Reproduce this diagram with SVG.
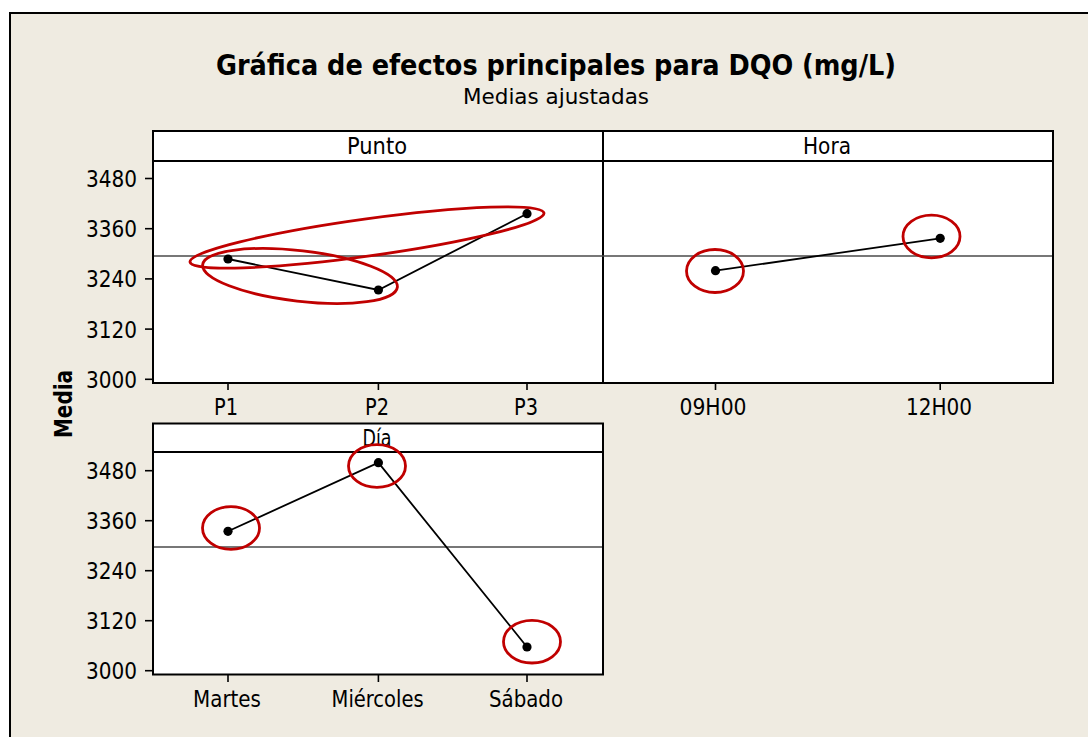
<svg xmlns="http://www.w3.org/2000/svg" width="1088" height="737" viewBox="0 0 1088 737">
<style>
text{font-family:"DejaVu Sans Condensed","DejaVu Sans","Liberation Sans",sans-serif;font-stretch:condensed;fill:#000}
.t{font-size:23px}
.yl{font-size:23px;text-anchor:end}
.c{text-anchor:middle}
.panel{fill:#fff;stroke:#000;stroke-width:2}
.hdr{stroke:#000;stroke-width:2}
.tick{stroke:#000;stroke-width:1.6}
.ref{stroke:#4a4a4a;stroke-width:1.7}
.data{fill:none;stroke:#000;stroke-width:1.8}
.dot{fill:#000}
.mark{fill:none;stroke:#c00000;stroke-width:2.8}
</style>
<rect x="0" y="0" width="1088" height="737" fill="#fff"/>
<g id="frame">
<rect x="10" y="13" width="1100" height="800" fill="#efebe1" stroke="#000" stroke-width="2"/>
</g>
<g id="title">
<text x="556" y="75" class="c" font-size="29" font-weight="bold" textLength="680" lengthAdjust="spacingAndGlyphs">Gráfica de efectos principales para DQO (mg/L)</text>
<text x="556" y="104" class="c" font-size="22" textLength="186" lengthAdjust="spacingAndGlyphs">Medias ajustadas</text>
<text transform="translate(72,404) rotate(-90)" class="c" font-size="24" font-weight="bold" textLength="68" lengthAdjust="spacingAndGlyphs">Media</text>
</g>
<g id="axis-top">
<line class="tick" x1="145" y1="379.3" x2="153" y2="379.3"/>
<line class="tick" x1="145" y1="329.1" x2="153" y2="329.1"/>
<line class="tick" x1="145" y1="278.9" x2="153" y2="278.9"/>
<line class="tick" x1="145" y1="228.7" x2="153" y2="228.7"/>
<line class="tick" x1="145" y1="178.5" x2="153" y2="178.5"/>
<text class="yl" x="137" y="187" textLength="51" lengthAdjust="spacingAndGlyphs">3480</text>
<text class="yl" x="137" y="237" textLength="51" lengthAdjust="spacingAndGlyphs">3360</text>
<text class="yl" x="137" y="287" textLength="51" lengthAdjust="spacingAndGlyphs">3240</text>
<text class="yl" x="137" y="337.5" textLength="51" lengthAdjust="spacingAndGlyphs">3120</text>
<text class="yl" x="137" y="387.5" textLength="51" lengthAdjust="spacingAndGlyphs">3000</text>
</g>
<g id="panel-punto">
<rect class="panel" x="153" y="131" width="450" height="252"/>
<line class="hdr" x1="153" y1="161" x2="603" y2="161"/>
<text class="t c" x="377" y="153.5" textLength="60" lengthAdjust="spacingAndGlyphs">Punto</text>
<line class="tick" x1="228" y1="383" x2="228" y2="390"/>
<line class="tick" x1="378.4" y1="383" x2="378.4" y2="390"/>
<line class="tick" x1="527" y1="383" x2="527" y2="390"/>
<text class="t c" x="226" y="415" textLength="24" lengthAdjust="spacingAndGlyphs">P1</text>
<text class="t c" x="377" y="415" textLength="24" lengthAdjust="spacingAndGlyphs">P2</text>
<text class="t c" x="526" y="415" textLength="24" lengthAdjust="spacingAndGlyphs">P3</text>
</g>
<g id="panel-hora">
<rect class="panel" x="603" y="131" width="450" height="252"/>
<line class="hdr" x1="603" y1="161" x2="1053" y2="161"/>
<text class="t c" x="827" y="153.5" textLength="48" lengthAdjust="spacingAndGlyphs">Hora</text>
<line class="tick" x1="715.5" y1="383" x2="715.5" y2="390"/>
<line class="tick" x1="940.2" y1="383" x2="940.2" y2="390"/>
<text class="t c" x="713" y="415" textLength="67" lengthAdjust="spacingAndGlyphs">09H00</text>
<text class="t c" x="939" y="415" textLength="66" lengthAdjust="spacingAndGlyphs">12H00</text>
</g>
<line class="ref" x1="154" y1="256" x2="1052" y2="256"/>
<g id="panel-dia">
<rect class="panel" x="153" y="423.5" width="450" height="251"/>
<line class="hdr" x1="153" y1="452" x2="603" y2="452"/>
<text class="t c" x="377" y="445.5" textLength="29" lengthAdjust="spacingAndGlyphs">Día</text>
<line class="ref" x1="154" y1="547" x2="602" y2="547"/>
<line class="tick" x1="145" y1="670.7" x2="153" y2="670.7"/>
<line class="tick" x1="145" y1="620.7" x2="153" y2="620.7"/>
<line class="tick" x1="145" y1="570.7" x2="153" y2="570.7"/>
<line class="tick" x1="145" y1="520.7" x2="153" y2="520.7"/>
<line class="tick" x1="145" y1="470.7" x2="153" y2="470.7"/>
<text class="yl" x="137" y="479" textLength="51" lengthAdjust="spacingAndGlyphs">3480</text>
<text class="yl" x="137" y="529" textLength="51" lengthAdjust="spacingAndGlyphs">3360</text>
<text class="yl" x="137" y="579" textLength="51" lengthAdjust="spacingAndGlyphs">3240</text>
<text class="yl" x="137" y="629" textLength="51" lengthAdjust="spacingAndGlyphs">3120</text>
<text class="yl" x="137" y="679" textLength="51" lengthAdjust="spacingAndGlyphs">3000</text>
<line class="tick" x1="228" y1="674.5" x2="228" y2="682"/>
<line class="tick" x1="378.4" y1="674.5" x2="378.4" y2="682"/>
<line class="tick" x1="527" y1="674.5" x2="527" y2="682"/>
<text class="t c" x="227" y="707" textLength="68" lengthAdjust="spacingAndGlyphs">Martes</text>
<text class="t c" x="377.6" y="707" textLength="92" lengthAdjust="spacingAndGlyphs">Miércoles</text>
<text class="t c" x="526" y="707" textLength="74" lengthAdjust="spacingAndGlyphs">Sábado</text>
</g>
<g id="connectors">
<polyline class="data" points="228,259 378.4,290 527,213.7"/>
<polyline class="data" points="715.5,270.7 940.2,238.3"/>
<polyline class="data" points="228,531.3 378.4,462.7 527,647"/>
</g>
<g id="points">
<circle class="dot" cx="228" cy="259" r="4.6"/>
<circle class="dot" cx="378.4" cy="290" r="4.6"/>
<circle class="dot" cx="527" cy="213.7" r="4.6"/>
<circle class="dot" cx="715.5" cy="270.7" r="4.6"/>
<circle class="dot" cx="940.2" cy="238.3" r="4.6"/>
<circle class="dot" cx="228" cy="531.3" r="4.6"/>
<circle class="dot" cx="378.4" cy="462.7" r="4.6"/>
<circle class="dot" cx="527" cy="647" r="4.6"/>
</g>
<g id="highlights">
<ellipse class="mark" cx="0" cy="0" rx="178.7" ry="18.6" transform="translate(367,237.5) rotate(-7.9)"/>
<ellipse class="mark" cx="0" cy="0" rx="98" ry="25.3" transform="translate(300,276) rotate(6.6)"/>
<ellipse class="mark" cx="715" cy="271" rx="28.5" ry="21.5"/>
<ellipse class="mark" cx="931.5" cy="236.5" rx="28.5" ry="21.3"/>
<ellipse class="mark" cx="231" cy="528" rx="28.5" ry="21.3"/>
<ellipse class="mark" cx="377" cy="466" rx="28.5" ry="21.3"/>
<ellipse class="mark" cx="532" cy="641.7" rx="28.5" ry="21.3"/>
</g>
</svg>
